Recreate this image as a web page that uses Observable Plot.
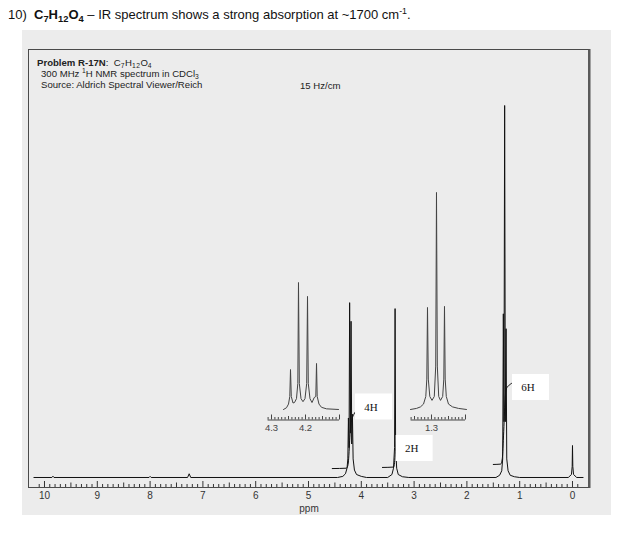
<!DOCTYPE html>
<html>
<head>
<meta charset="utf-8">
<script src="https://cdn.jsdelivr.net/npm/d3@7"></script>
<script src="https://cdn.jsdelivr.net/npm/@observablehq/plot@0.6"></script>
<style>
  body { margin: 0; background: #fff; font-family: "Liberation Sans", Arial, sans-serif; color: #111; }
  #page { position: relative; width: 633px; height: 535px; overflow: hidden; }
  #title { position: absolute; left: 8px; top: 7px; font-size: 13px; white-space: nowrap; line-height: 15px; }
  #panel { position: absolute; left: 22px; top: 30px; width: 589px; height: 485px; background: #ececec; }
  #frame { position: absolute; left: 28px; top: 49px; width: 562px; height: 439px; box-sizing: border-box;
           border: 1px solid #4a4a4a; border-right: 2px solid #5a5a5a; box-shadow: 1px 0 0 #a0a0a0; }
  #info { position: absolute; left: 37px; top: 58px; font-size: 9.6px; line-height: 10.8px; color: #222; white-space: nowrap; }
  #info div { height: 10.8px; }
  #scale { position: absolute; left: 300px; top: 80px; font-size: 9.6px; color: #222; }
  .sub { font-size: 70%; position: relative; top: 2px; letter-spacing: 0.5px; }
  .sup { font-size: 70%; position: relative; top: -4px; }
  .tsub { font-size: 72%; position: relative; top: 3px; }
  .tsup { font-size: 68%; position: relative; top: -5px; }
  .abs { position: absolute; }
</style>
</head>
<body>
<div id="page">
  <div id="title">10)&nbsp; <b>C<span class="tsub">7</span>H<span class="tsub">12</span>O<span class="tsub">4</span></b> – IR spectrum shows a strong absorption at ~1700 cm<span class="tsup">-1</span>.</div>
  <div id="panel"></div>
  <div id="frame"></div>
  <div id="info">
    <div><b>Problem R-17N</b>:&nbsp; C<span class="sub">7</span>H<span class="sub">12</span>O<span class="sub">4</span></div>
    <div style="padding-left:4px">300 MHz <span class="sup">1</span>H NMR spectrum in CDCl<span class="sub">3</span></div>
    <div style="padding-left:4px">Source: Aldrich Spectral Viewer/Reich</div>
  </div>
  <div id="scale">15 Hz/cm</div>
  <div id="main" class="abs" style="left:28px; top:49px;"></div>
  <div id="insetQ" class="abs" style="left:262px; top:180px;"></div>
  <div id="insetT" class="abs" style="left:406px; top:180px;"></div>
</div>
<script>
// ---------- DATA ----------
// Main 1H NMR trace: chemical shift (ppm) and relative intensity (tallest line = 100)
const mainPpm = [10.2, 9.86, 9.84, 9.82, 8.02, 8.0, 7.98, 7.29, 7.26, 7.23,
  4.45, 4.35, 4.30, 4.27, 4.255, 4.244, 4.232, 4.221, 4.207, 4.194, 4.181, 4.168, 4.155, 4.13, 4.09, 4.0, 3.9,
  3.5, 3.42, 3.39, 3.37, 3.36, 3.35, 3.33, 3.30, 3.22, 3.1,
  1.45, 1.38, 1.34, 1.322, 1.31, 1.298, 1.285, 1.272, 1.258, 1.245, 1.22, 1.18, 1.10, 1.0,
  0.08, 0.02, 0.006, 0, -0.006, -0.02, -0.08, -0.2];
const mainInt = [0, 0, 0.35, 0, 0, 0.3, 0, 0, 1.0, 0,
  0, 0.3, 1.0, 2.5, 5, 16, 8, 47, 12, 42, 9, 17, 5, 2, 0.8, 0.3, 0,
  0, 0.8, 2.5, 8, 45.4, 8, 2.5, 0.8, 0.2, 0,
  0, 0.6, 1.8, 5, 44, 15, 100, 15, 40, 5, 1.8, 0.6, 0.2, 0,
  0, 0.8, 3, 8.6, 3, 0.8, 0, 0];

// Integral traces (same intensity units)
const integral4HPpm = [4.55, 4.28, 4.25, 4.235, 4.22, 4.205, 4.19, 4.17, 4.14, 4.11];
const integral4HInt = [2.4, 2.5, 3.5, 6, 10, 13, 14.8, 16, 17, 17.7];
const integral2HPpm = [3.60, 3.39, 3.37, 3.355, 3.34, 3.32, 3.28];
const integral2HInt = [2.7, 2.8, 4, 7, 9.5, 10.3, 10.6];
const integral6HPpm = [1.50, 1.36, 1.33, 1.31, 1.295, 1.28, 1.265, 1.24, 1.20, 1.155];
const integral6HInt = [3.5, 3.6, 5, 10, 15, 20, 23, 24.2, 24.8, 25.3];

// Integral labels: text and anchor (ppm, intensity)
const integralLabels = ["4H", "2H", "6H"];
const integralLabelPpm = [3.759, 2.99, 0.786];
const integralLabelInt = [18.95, 7.8, 24.2];

// Expanded quartet (inset near 4.2 ppm)
const quartetPpm = [4.2647, 4.2559, 4.2500, 4.2462, 4.2441, 4.2418, 4.2368, 4.2324, 4.2265, 4.2226, 4.2206, 4.2182,
  4.2132, 4.2074, 4.2015, 4.1965, 4.1941, 4.1918, 4.1868, 4.1809, 4.1744, 4.1697, 4.1676, 4.1656, 4.1603, 4.1529, 4.1382, 4.1029];
const quartetInt = [0, 0.8, 2.5, 6, 18.4, 6, 3, 3.2, 5, 12, 58.5, 12,
  5, 3.6, 5, 12, 52.1, 12, 5, 3.2, 5.5, 6, 21.2, 6, 2.5, 1, 0.3, 0];

// Expanded triplet (inset near 1.3 ppm)
const tripletPpm = [1.3618, 1.3441, 1.3324, 1.3235, 1.3168, 1.3138, 1.3118, 1.3094, 1.3050, 1.2985, 1.2918, 1.2876,
  1.2853, 1.2829, 1.2788, 1.2735, 1.2671, 1.2638, 1.2618, 1.2597, 1.2565, 1.2500, 1.2382, 1.2206, 1.1971];
const tripletInt = [0, 0.5, 1.2, 2.5, 6, 14, 47, 14, 6, 4.2, 6, 20,
  100, 20, 6, 4.2, 6, 14, 47.5, 14, 6, 2.5, 1.2, 0.5, 0];

// Axis ticks
const mainTickLabels = [10, 9, 8, 7, 6, 5, 4, 3, 2, 1, 0];
const mainTickSpan = [10.1, -0.1];      // first / last 0.1-ppm tick
const quartetTickLabels = [4.3, 4.2];
const quartetTickSpan = [4.31, 4.10];   // first / last 0.01-ppm tick
const tripletTickLabels = [1.3];
const tripletTickSpan = [1.36, 1.20];

// ---------- BUILD ----------
const zip = (xs, ys) => xs.map((x, i) => ({ppm: x, int: ys[i]}));
const mainSpec = zip(mainPpm, mainInt);
const integrals = [
  ...zip(integral4HPpm, integral4HInt).map(d => ({...d, k: "4H"})),
  ...zip(integral2HPpm, integral2HInt).map(d => ({...d, k: "2H"})),
  ...zip(integral6HPpm, integral6HInt).map(d => ({...d, k: "6H"}))
];
const labels = integralLabels.map((t, i) => ({label: t, ppm: integralLabelPpm[i], int: integralLabelInt[i]}));

const mainW = 561, mainH = 466, mainMB = 28;
const frameH = mainH - mainMB;
const xDom = [10.303, -0.322];
const yDom = [-2.69, 115.05];
const pxPerPpm = mainW / (xDom[0] - xDom[1]);
const pxPerInt = frameH / (yDom[1] - yDom[0]);
const boxHalfW = 18.5 / pxPerPpm, boxHalfH = 13 / pxPerInt;

function tickRange(span, step) {
  const a = Math.round(Math.min(...span) / step), b = Math.round(Math.max(...span) / step);
  return d3.range(a, b + 1).map(i => +(i * step).toFixed(4));
}
const near = (v, step) => Math.abs(v / step - Math.round(v / step)) < 1e-6;

const allTicks = tickRange(mainTickSpan, 0.1);
const majorT = allTicks.filter(v => near(v, 1));
const halfT = allTicks.filter(v => near(v, 0.5) && !near(v, 1));
const minorT = allTicks.filter(v => !near(v, 0.5));

const mainPlot = Plot.plot({
  width: mainW, height: mainH,
  marginTop: 0, marginRight: 0, marginBottom: mainMB, marginLeft: 0,
  style: {background: "transparent", overflow: "visible", fontFamily: "'Liberation Sans', Arial, sans-serif"},
  x: {domain: xDom},
  y: {domain: yDom, axis: null},
  marks: [
    Plot.tickX(minorT, {x: d => d, insetTop: frameH - 3, stroke: "#333"}),
    Plot.tickX(halfT, {x: d => d, insetTop: frameH - 4.5, stroke: "#333"}),
    Plot.tickX(majorT, {x: d => d, insetTop: frameH - 6, stroke: "#333"}),
    Plot.axisX(mainTickLabels, {tickSize: 0, tickPadding: 4, fontSize: 10, fill: "#333", tickFormat: d => String(d), label: null}),
    Plot.text(["ppm"], {frameAnchor: "bottom", lineAnchor: "middle", dy: 21, fontSize: 10, fill: "#333"}),
    Plot.line(mainSpec, {x: "ppm", y: "int", stroke: "#111", strokeWidth: 1}),
    Plot.line(integrals, {x: "ppm", y: "int", z: "k", stroke: "#111", strokeWidth: 1, curve: "monotone-x"}),
    Plot.rect(labels, {x1: d => d.ppm + boxHalfW, x2: d => d.ppm - boxHalfW, y1: d => d.int - boxHalfH, y2: d => d.int + boxHalfH, fill: "white"}),
    Plot.text(labels, {x: "ppm", y: "int", text: "label", dx: -3, fontSize: 11, fill: "#111",
      fontFamily: "'Liberation Serif', 'Times New Roman', serif"})
  ]
});
document.getElementById("main").append(mainPlot);

function inset(spec, xDomain, width, tickLabels, tickSpan) {
  const H = 256, MB = 16.5;
  const fH = H - MB;
  const ticks = tickRange(tickSpan, 0.01);
  const maj = ticks.filter(v => near(v, 0.1));
  const mid = ticks.filter(v => near(v, 0.05) && !near(v, 0.1));
  const mnr = ticks.filter(v => !near(v, 0.05));
  const yD = [-4.84, 105.5];
  return Plot.plot({
    width, height: H,
    marginTop: 0, marginRight: 0, marginBottom: MB, marginLeft: 0,
    style: {background: "transparent", overflow: "visible", fontFamily: "'Liberation Sans', Arial, sans-serif"},
    x: {domain: xDomain},
    y: {domain: yD, axis: null},
    marks: [
      Plot.ruleY([yD[0]], {x1: tickSpan[0], x2: tickSpan[1], stroke: "#444"}),
      Plot.tickX(mnr, {x: d => d, insetTop: fH - 2.5, stroke: "#444"}),
      Plot.tickX(mid, {x: d => d, insetTop: fH - 3.5, stroke: "#444"}),
      Plot.tickX(maj, {x: d => d, insetTop: fH - 5, stroke: "#444"}),
      Plot.axisX(tickLabels, {tickSize: 0, tickPadding: 4, fontSize: 9.5, fill: "#444", tickFormat: d3.format(".1f"), label: null}),
      Plot.line(spec, {x: "ppm", y: "int", stroke: "#444", strokeWidth: 1})
    ]
  });
}
document.getElementById("insetQ").append(inset(zip(quartetPpm, quartetInt), [4.32647, 4.08824], 81, quartetTickLabels, quartetTickSpan));
document.getElementById("insetT").append(inset(zip(tripletPpm, tripletInt), [1.37353, 1.18529], 64, tripletTickLabels, tripletTickSpan));
</script>
</body>
</html>
